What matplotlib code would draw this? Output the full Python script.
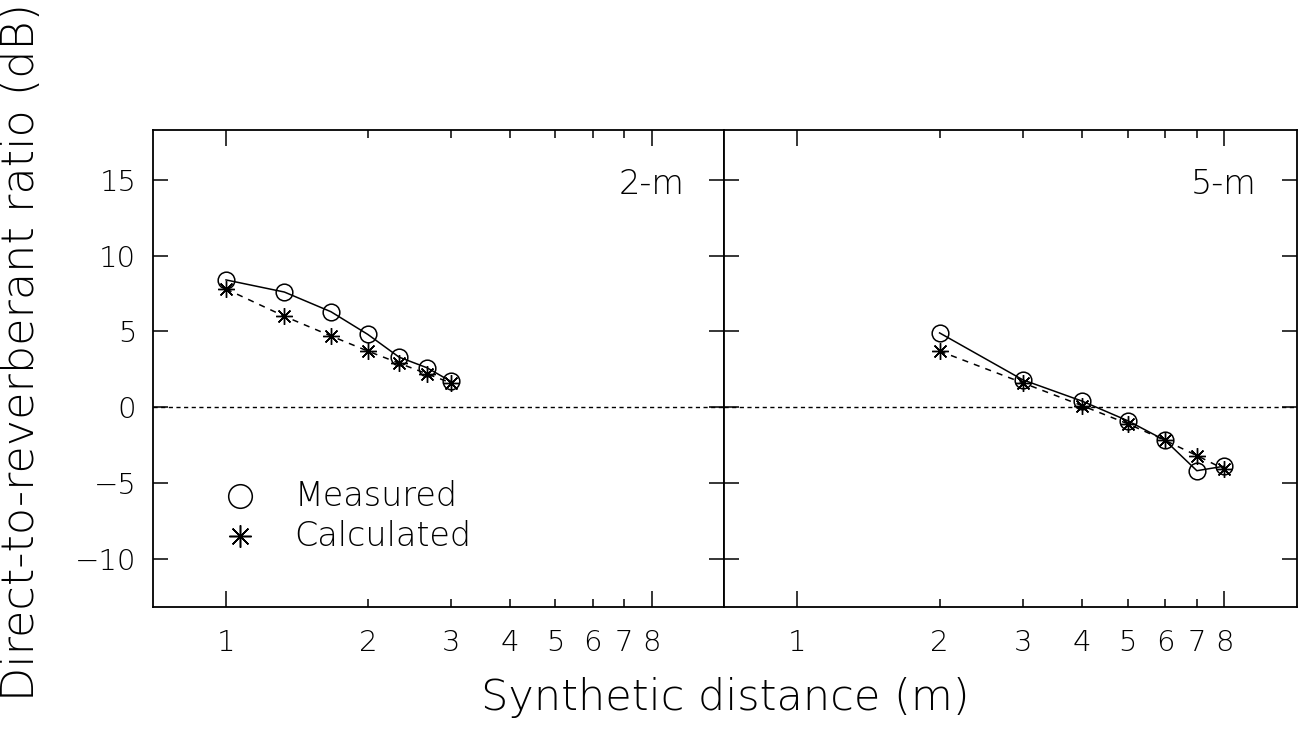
import matplotlib
matplotlib.use("Agg")
import matplotlib.pyplot as plt
from matplotlib.ticker import FixedLocator, FixedFormatter

plt.rcParams['font.family'] = ['DejaVu Sans']
plt.rcParams['font.weight'] = 'light'

# ---- data ----
dist_2m = [1.0, 1.33, 1.67, 2.0, 2.33, 2.67, 3.0]
measured_2m = [8.4, 7.6, 6.3, 4.8, 3.3, 2.6, 1.7]
calculated_2m = [7.8, 6.0, 4.7, 3.7, 2.9, 2.2, 1.6]

dist_5m = [2, 3, 4, 5, 6, 7, 8]
measured_5m = [4.9, 1.8, 0.4, -0.9, -2.2, -4.2, -3.9]
calculated_5m = [3.7, 1.6, 0.1, -1.1, -2.2, -3.2, -4.1]

panel_labels = ["2-m", "5-m"]
series_labels = ["Measured", "Calculated"]
y_ticks = [-10, -5, 0, 5, 10, 15]
x_major = [1, 8]
x_minor = [2, 3, 4, 5, 6, 7]

W, H = 1305, 730
fig = plt.figure(figsize=(W / 100, H / 100), dpi=100)

def px_axes(x0, x1, y0, y1):
    return fig.add_axes([x0 / W, 1 - y1 / H, (x1 - x0) / W, (y1 - y0) / H])

axL = px_axes(153, 724, 130, 607)
axR = px_axes(724, 1297, 130, 607)

lw = 1.1
for ax, x, m, c, lab in [(axL, dist_2m, measured_2m, calculated_2m, panel_labels[0]),
                         (axR, dist_5m, measured_5m, calculated_5m, panel_labels[1])]:
    ax.set_xscale('log')
    ax.set_xlim(0.7, 11.4)
    ax.set_ylim(-13.2, 18.3)
    ax.axhline(0, color='black', lw=1.0, ls=(0, (3, 2.5)), zorder=1)
    ax.plot(x, c, color='black', lw=lw, ls=(0, (4, 4)), marker=(8, 2, 0),
            ms=12, mew=1.0, zorder=2)
    ax.plot(x, m, color='black', lw=lw, ls='-', marker='o', ms=12,
            mfc='none', mec='black', mew=1.1, zorder=3)
    for s in ax.spines.values():
        s.set_linewidth(1.3)
    ax.xaxis.set_major_locator(FixedLocator(x_major))
    ax.xaxis.set_major_formatter(FixedFormatter([str(v) for v in x_major]))
    ax.xaxis.set_minor_locator(FixedLocator(x_minor))
    ax.xaxis.set_minor_formatter(FixedFormatter([str(v) for v in x_minor]))
    ax.tick_params(axis='x', which='major', direction='in', length=11.5, width=1.1,
                   top=True, bottom=True, labelsize=21, pad=16)
    ax.tick_params(axis='x', which='minor', direction='in', length=5.8, width=1.1,
                   top=True, bottom=True, labelsize=21, pad=16)
    ax.set_yticks(y_ticks)
    ax.tick_params(axis='y', which='major', direction='in', length=11, width=1.1,
                   left=True, right=True, labelsize=21, pad=12)
    ax.text(0.93, 0.885, lab, transform=ax.transAxes, ha='right', va='center',
            fontsize=24)

axR.tick_params(axis='y', labelleft=False)

# legend (manual, as in the original figure)
axL.plot([0.152], [0.232], transform=axL.transAxes, marker='o', ms=17,
         mfc='none', mec='black', mew=1.1, ls='none', clip_on=False)
axL.plot([0.152], [0.148], transform=axL.transAxes, marker=(8, 2, 0), ms=16,
         mec='black', mew=1.1, ls='none', clip_on=False)
axL.text(0.248, 0.232, series_labels[0], transform=axL.transAxes,
         ha='left', va='center', fontsize=24)
axL.text(0.248, 0.148, series_labels[1], transform=axL.transAxes,
         ha='left', va='center', fontsize=24)

fig.text(725 / W, 1 - 697 / H, "Synthetic distance (m)", ha='center', va='center',
         fontsize=31)
fig.text(22 / W, 1 - 352 / H, "Direct-to-reverberant ratio (dB)", ha='center',
         va='center', rotation=90, fontsize=32)

fig.savefig("out.png", dpi=100)
